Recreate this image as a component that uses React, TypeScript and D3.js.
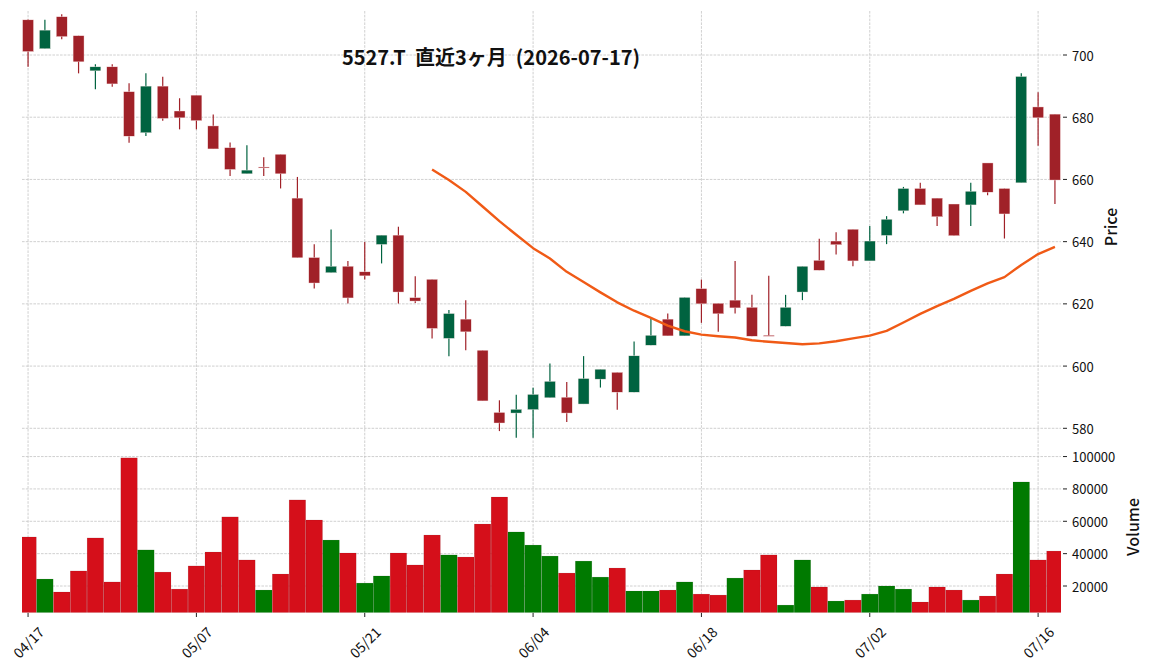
import React from "react";
import * as d3 from "d3";

const TITLE = "5527.T  直近3ヶ月  (2026-07-17)";

const dates = [
  "04/17","04/20","04/21","04/22","04/23","04/24","04/27","04/28","04/30","05/01",
  "05/07","05/08","05/11","05/12","05/13","05/14","05/15","05/18","05/19","05/20",
  "05/21","05/22","05/25","05/26","05/27","05/28","05/29","06/01","06/02","06/03",
  "06/04","06/05","06/08","06/09","06/10","06/11","06/12","06/15","06/16","06/17",
  "06/18","06/19","06/22","06/23","06/24","06/25","06/26","06/29","06/30","07/01",
  "07/02","07/03","07/06","07/07","07/08","07/09","07/10","07/13","07/14","07/15",
  "07/16","07/17",
];

const opens = [
  711.3, 702.0, 712.3, 706.2, 694.9, 696.2, 688.2, 675.0, 690.0, 682.0,
  687.1, 677.2, 670.2, 661.8, 664.0, 668.1, 654.0, 634.9, 630.0, 632.1,
  630.3, 639.1, 642.1, 622.0, 627.9, 608.9, 615.1, 605.1, 585.1, 584.9,
  586.0, 589.8, 590.0, 587.8, 595.8, 598.0, 591.6, 606.7, 615.1, 609.7,
  624.9, 620.2, 621.2, 618.9, 609.9, 612.8, 623.8, 634.0, 640.2, 644.0,
  633.8, 642.0, 649.9, 657.1, 654.0, 652.1, 651.8, 665.3, 657.1, 658.9,
  683.3, 681.0,
];
const highs = [
  711.5, 711.3, 713.1, 706.2, 697.0, 697.0, 690.9, 694.1, 693.0, 686.1,
  687.1, 680.9, 671.9, 671.0, 667.1, 668.1, 660.8, 639.2, 643.9, 633.8,
  639.9, 642.1, 644.8, 628.9, 627.9, 618.0, 621.2, 605.1, 589.0, 590.8,
  593.0, 600.8, 594.9, 603.2, 599.0, 598.0, 607.9, 615.3, 616.9, 622.1,
  627.8, 620.2, 633.8, 622.9, 629.0, 622.9, 632.1, 640.9, 643.0, 644.0,
  645.0, 648.2, 657.6, 658.9, 654.0, 652.1, 658.9, 665.3, 657.1, 694.1,
  688.0, 681.0,
];
const lows = [
  696.2, 702.0, 705.1, 694.1, 689.0, 689.8, 671.8, 674.0, 678.9, 676.1,
  676.1, 669.8, 661.1, 661.8, 661.1, 657.1, 634.8, 624.9, 630.0, 620.1,
  627.8, 633.0, 620.1, 620.3, 608.9, 603.2, 605.1, 588.8, 579.1, 577.0,
  577.0, 589.8, 582.0, 587.8, 593.1, 586.0, 591.6, 606.7, 609.7, 609.7,
  613.9, 611.0, 616.9, 609.6, 609.7, 612.8, 621.2, 630.8, 635.9, 632.1,
  633.8, 639.2, 649.1, 651.8, 645.0, 641.9, 645.0, 654.9, 641.0, 658.9,
  670.8, 652.1,
];
const closes = [
  701.1, 708.0, 705.9, 697.8, 696.2, 690.7, 673.9, 690.0, 679.6, 679.8,
  678.9, 669.8, 663.2, 663.0, 663.8, 661.8, 634.8, 626.7, 632.1, 621.9,
  629.0, 642.1, 623.8, 620.9, 612.1, 616.9, 611.0, 588.8, 581.7, 586.1,
  590.9, 595.1, 584.9, 596.0, 599.0, 591.6, 603.3, 609.9, 609.7, 622.1,
  620.0, 616.8, 618.7, 609.6, 609.8, 618.9, 632.1, 630.8, 639.0, 633.8,
  640.2, 647.2, 657.1, 651.8, 648.0, 641.9, 656.2, 655.9, 648.9, 693.1,
  679.8, 659.8,
];
const volumes = [
  50300, 24300, 16300, 29300, 49700, 22500, 99200, 42300, 28600, 18100,
  32400, 41000, 62700, 36100, 17500, 27400, 73200, 60800, 48400, 40400,
  21800, 26200, 40400, 33000, 51500, 39200, 37900, 58300, 75000, 53400,
  45300, 38500, 28000, 35400, 25500, 31100, 16900, 16900, 17500, 22500,
  15000, 14400, 24900, 29900, 39200, 8200, 36100, 19400, 10700, 11300,
  15000, 20000, 18100, 10100, 19400, 17500, 11300, 13800, 27400, 84300,
  36100, 41600,
];
// 1 = volume bar drawn in the "up" colour, 0 = "down" colour
const volumeUp = [
  0, 1, 0, 0, 0, 0, 0, 1, 0, 0,
  0, 0, 0, 0, 1, 0, 0, 0, 1, 0,
  1, 1, 0, 0, 0, 1, 0, 0, 0, 1,
  1, 1, 0, 1, 1, 0, 1, 1, 0, 1,
  0, 0, 1, 0, 0, 1, 1, 0, 1, 0,
  1, 1, 1, 0, 0, 0, 1, 0, 0, 1,
  0, 0,
];
// 25-day moving average (starts at index 24)
const ma25: (number | null)[] = [
  null, null, null, null, null, null, null, null, null, null,
  null, null, null, null, null, null, null, null, null, null,
  null, null, null, null, 663.2, 659.8, 656.0, 651.3, 646.6, 642.2,
  637.9, 634.6, 630.3, 627.0, 623.7, 620.5, 617.8, 615.5, 613.0, 611.2,
  610.1, 609.6, 609.2, 608.3, 607.8, 607.4, 607.0, 607.3, 608.0, 608.9,
  609.8, 611.3, 614.0, 616.8, 619.3, 621.6, 624.2, 626.6, 628.6, 632.5,
  636.0, 638.3,
];

const priceTicks = [580, 600, 620, 640, 660, 680, 700];
const volumeTicks = [20000, 40000, 60000, 80000, 100000];
const xTickEvery = 10;

const W = 1152;
const H = 670;
const LEFT = 22;
const RIGHT = 1061;
const P_TOP = 11;
const P_BOT = 441;
const V_TOP = 442;
const V_BOT = 612.7;

const UP = "#006340";
const DOWN = "#a02128";
const VUP = "#007a00";
const VDOWN = "#d50f1a";
const GRID = "#c4c4c4";
const MA_COLOR = "#f05a16";
const FONT = "'Noto Sans CJK JP', 'Noto Sans', sans-serif";

export default function App() {
  const n = closes.length;
  const x = d3.scaleLinear().domain([-0.36, n - 1 + 0.36]).range([LEFT, RIGHT]);
  const step = x(1) - x(0);
  const y = d3.scaleLinear().domain([580, 700]).range([428.3, 55]);
  const yv = d3.scaleLinear().domain([3500, 109000]).range([V_BOT, V_TOP]);

  const idx = d3.range(n);
  const bodyW = step * 0.65;
  const volW = step * 0.98;

  const maLine = d3
    .line<number>()
    .defined((i) => ma25[i] != null)
    .x((i) => x(i))
    .y((i) => y(ma25[i] as number));

  const xTicks = idx.filter((i) => i % xTickEvery === 0);

  return (
    <svg width={W} height={H} style={{ display: "block", position: "absolute", left: 0, top: 0, background: "#fff" }}>
      <defs>
        <clipPath id="pclip">
          <rect x={LEFT} y={P_TOP} width={RIGHT - LEFT} height={P_BOT - P_TOP} />
        </clipPath>
        <clipPath id="vclip">
          <rect x={LEFT} y={V_TOP} width={RIGHT - LEFT} height={V_BOT - V_TOP} />
        </clipPath>
      </defs>
      <rect x={0} y={0} width={W} height={H} fill="#fff" />

      {/* grids */}
      <g stroke={GRID} strokeWidth={0.8} strokeDasharray="2.6,1.2" fill="none">
        {xTicks.map((i) => (
          <line key={"vx" + i} x1={x(i)} x2={x(i)} y1={P_TOP} y2={V_BOT} />
        ))}
        {priceTicks.map((t) => (
          <line key={"gp" + t} x1={LEFT} x2={RIGHT} y1={y(t)} y2={y(t)} />
        ))}
        {volumeTicks.map((t) => (
          <line key={"gv" + t} x1={LEFT} x2={RIGHT} y1={yv(t)} y2={yv(t)} />
        ))}
      </g>

      {/* candles */}
      <g clipPath="url(#pclip)">
        {idx.map((i) => {
          const up = closes[i] >= opens[i];
          const c = up ? UP : DOWN;
          const top = y(Math.max(opens[i], closes[i]));
          const bot = y(Math.min(opens[i], closes[i]));
          const h = Math.max(bot - top, 1);
          return (
            <g key={"c" + i}>
              <line x1={x(i)} x2={x(i)} y1={y(highs[i])} y2={y(lows[i])} stroke={c} strokeWidth={1.2} />
              <rect x={x(i) - bodyW / 2} y={top} width={bodyW} height={h} fill={c} stroke="#fbeaea" strokeWidth={0.4} />
            </g>
          );
        })}
        <path d={maLine(idx) || ""} fill="none" stroke={MA_COLOR} strokeWidth={2.4} strokeLinejoin="round" />
      </g>

      {/* volume */}
      <g clipPath="url(#vclip)">
        {idx.map((i) => (
          <rect
            key={"v" + i}
            x={x(i) - volW / 2}
            y={yv(volumes[i])}
            width={volW}
            height={V_BOT - yv(volumes[i])}
            fill={volumeUp[i] ? VUP : VDOWN}
            stroke="#000"
            strokeOpacity={0.12}
            strokeWidth={0.6}
          />
        ))}
      </g>

      {/* right axis ticks + labels */}
      <g fontFamily={FONT} fontSize={13} fill="#111">
        {priceTicks.map((t) => (
          <g key={"pt" + t}>
            <line x1={1063} x2={1067} y1={y(t)} y2={y(t)} stroke="#222" strokeWidth={1} />
            <text x={1072} y={y(t)} dominantBaseline="central">{t}</text>
          </g>
        ))}
        {volumeTicks.map((t) => (
          <g key={"vt" + t}>
            <line x1={1063} x2={1067} y1={yv(t)} y2={yv(t)} stroke="#222" strokeWidth={1} />
            <text x={1072} y={yv(t)} dominantBaseline="central">{t}</text>
          </g>
        ))}
        {xTicks.map((i) => (
          <g key={"xt" + i}>
            <line x1={x(i)} x2={x(i)} y1={613} y2={617} stroke="#222" strokeWidth={1} />
            <text
              transform={`translate(${x(i)},642) rotate(-45)`}
              textAnchor="middle"
              dominantBaseline="central"
              fontSize={14}
            >
              {dates[i]}
            </text>
          </g>
        ))}
      </g>

      {/* axis titles */}
      <text
        transform={`translate(1110,227) rotate(-90)`}
        textAnchor="middle"
        dominantBaseline="central"
        fontFamily={FONT}
        fontSize={16}
        fontWeight={500}
        fill="#111"
      >
        Price
      </text>
      <text
        transform={`translate(1132,527) rotate(-90)`}
        textAnchor="middle"
        dominantBaseline="central"
        fontFamily={FONT}
        fontSize={16}
        fontWeight={500}
        fill="#111"
      >
        Volume
      </text>

      {/* title */}
      <text
        x={491}
        y={56}
        textAnchor="middle"
        dominantBaseline="central"
        fontFamily={FONT}
        fontSize={20}
        fontWeight={700}
        fill="#111"
        style={{ whiteSpace: "pre" }}
      >
        {TITLE}
      </text>
    </svg>
  );
}
